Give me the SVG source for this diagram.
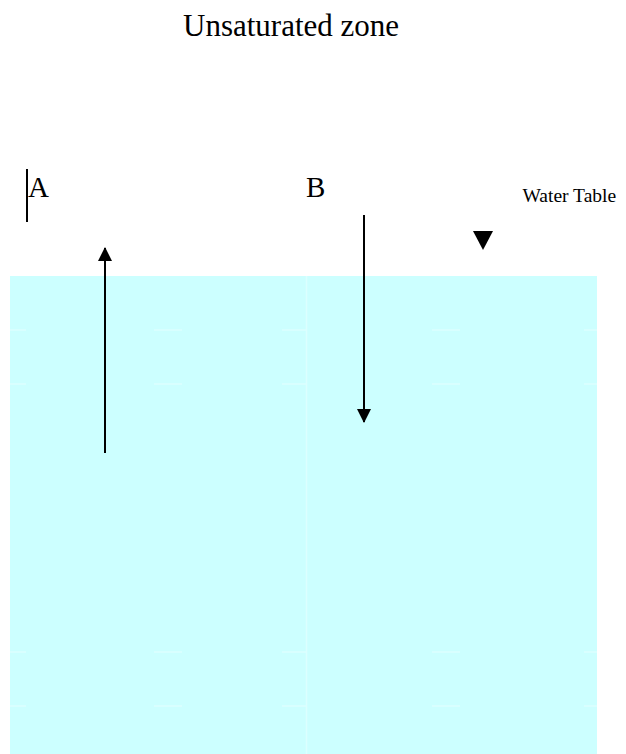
<svg xmlns="http://www.w3.org/2000/svg" width="626" height="754" viewBox="0 0 626 754">
<style>
.t{font-family:"Liberation Serif","Times New Roman",serif;fill:#000}
.ln{stroke:#000;stroke-width:2;fill:none}
.grid{stroke:#dcffff;stroke-width:1.5;fill:none}
</style>
<defs>
<marker id="ah" viewBox="0 0 14 16" refX="13" refY="8" markerWidth="14" markerHeight="16" markerUnits="userSpaceOnUse" orient="auto">
<path d="M0,1 L14,8 L0,15 Z" fill="#000"/>
</marker>
</defs>
<rect width="626" height="754" fill="#fff"/>
<g id="saturated-zone">
<rect x="10" y="276" width="587" height="478" fill="#ccffff"/>
<g class="grid">
<line x1="306.5" y1="276" x2="306.5" y2="754"/>
<path d="M10,330h16M154,330h28M282,330h24M432,330h28M584,330h13"/>
<path d="M10,384h16M154,384h28M282,384h24M432,384h28M584,384h13"/>
<path d="M10,652h16M154,652h28M282,652h24M432,652h28M584,652h13"/>
<path d="M10,706h16M154,706h28M282,706h24M432,706h28M584,706h13"/>
</g>
</g>
<g id="title"><text class="t" x="183" y="36" font-size="31">Unsaturated zone</text></g>
<g id="label-A">
<line class="ln" x1="27" y1="169" x2="27" y2="222"/>
<text class="t" x="28" y="197" font-size="29">A</text>
</g>
<g id="label-B"><text class="t" x="306" y="197" font-size="29">B</text></g>
<g id="water-table">
<text class="t" x="522.5" y="202" font-size="19.5">Water Table</text>
<path d="M473,231 L493,231 L483,250 Z" fill="#000"/>
</g>
<g id="connectors">
<line class="ln" x1="105" y1="453" x2="105" y2="248" marker-end="url(#ah)"/>
<line class="ln" x1="364" y1="215" x2="364" y2="422" marker-end="url(#ah)"/>
</g>
</svg>
